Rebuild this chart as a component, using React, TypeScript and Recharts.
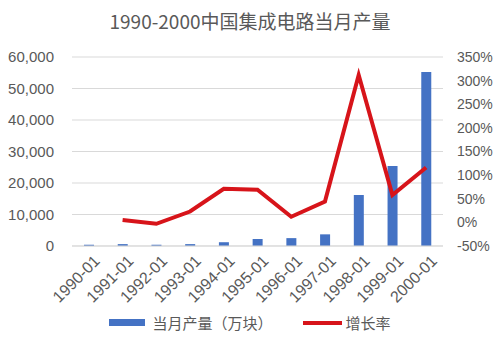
import { ComposedChart, Bar, Line, XAxis, YAxis, CartesianGrid, Legend } from 'recharts';

const months = ['1990-01', '1991-01', '1992-01', '1993-01', '1994-01', '1995-01', '1996-01', '1997-01', '1998-01', '1999-01', '2000-01'];
const output = [400, 600, 400, 600, 1200, 2200, 2500, 3700, 16200, 25400, 55200];
const growth = [null, 5, -3, 23, 71, 69, 12, 44, 312, 58, 116];
const leftTicks = [0, 10000, 20000, 30000, 40000, 50000, 60000];
const rightTicks = [-50, 0, 50, 100, 150, 200, 250, 300, 350];

const BLUE = '#4472C4';
const RED = '#D7141A';
const TEXT = '#595959';

const data = months.map((month, i) => ({ month, output: output[i], growth: growth[i] }));

function LegendContent() {
  return (
    <div style={{ display: 'flex', alignItems: 'center', justifyContent: 'center', fontSize: 15, color: TEXT, fontFamily: '"Noto Sans CJK SC", sans-serif' }}>
      <span style={{ display: 'inline-block', width: 36, height: 7, background: BLUE, marginRight: 7 }} />
      <span style={{ marginRight: 30 }}>当月产量（万块）</span>
      <span style={{ display: 'inline-block', width: 39, height: 4, background: RED, marginRight: 4 }} />
      <span>增长率</span>
    </div>
  );
}

export default function App() {
  return (
    <div style={{ position: 'absolute', left: 0, top: 0, width: 500, height: 353, background: '#fff', fontFamily: '"Liberation Sans", Arial, sans-serif' }}>
      <div style={{ position: 'absolute', top: 7, left: 0, width: 500, textAlign: 'center', fontSize: 19, color: TEXT, fontFamily: '"Noto Sans CJK SC", sans-serif' }}>
        1990-2000中国集成电路当月产量
      </div>
      <ComposedChart width={500} height={353} data={data} margin={{ top: 57, right: 0, left: 0, bottom: 26 }}>
        <CartesianGrid vertical={false} stroke="#D9D9D9" yAxisId="left" />
        <XAxis
          dataKey="month"
          height={60}
          interval={0}
          angle={-45}
          textAnchor="end"
          tick={{ fontSize: 16, fill: TEXT, dx: 4 }}
          tickLine={false}
          axisLine={{ stroke: '#D9D9D9' }}
        />
        <YAxis
          yAxisId="left"
          width={72}
          domain={[0, 60000]}
          ticks={leftTicks}
          tickFormatter={v => Number(v).toLocaleString('en-US')}
          tick={{ fontSize: 15, fill: TEXT, dx: -10 }}
          axisLine={false}
          tickLine={false}
        />
        <YAxis
          yAxisId="right"
          orientation="right"
          width={57}
          domain={[-50, 350]}
          ticks={rightTicks}
          tickFormatter={v => `${v}%`}
          tick={{ fontSize: 14, fill: TEXT, dx: 6 }}
          axisLine={false}
          tickLine={false}
        />
        <Legend verticalAlign="bottom" wrapperStyle={{ position: 'absolute', top: 312, left: 0, width: 500 }} content={LegendContent} />
        <Bar yAxisId="left" dataKey="output" name="当月产量（万块）" fill={BLUE} barSize={10} isAnimationActive={false} />
        <Line yAxisId="right" dataKey="growth" name="增长率" stroke={RED} strokeWidth={4} dot={false} connectNulls isAnimationActive={false} />
      </ComposedChart>
    </div>
  );
}
